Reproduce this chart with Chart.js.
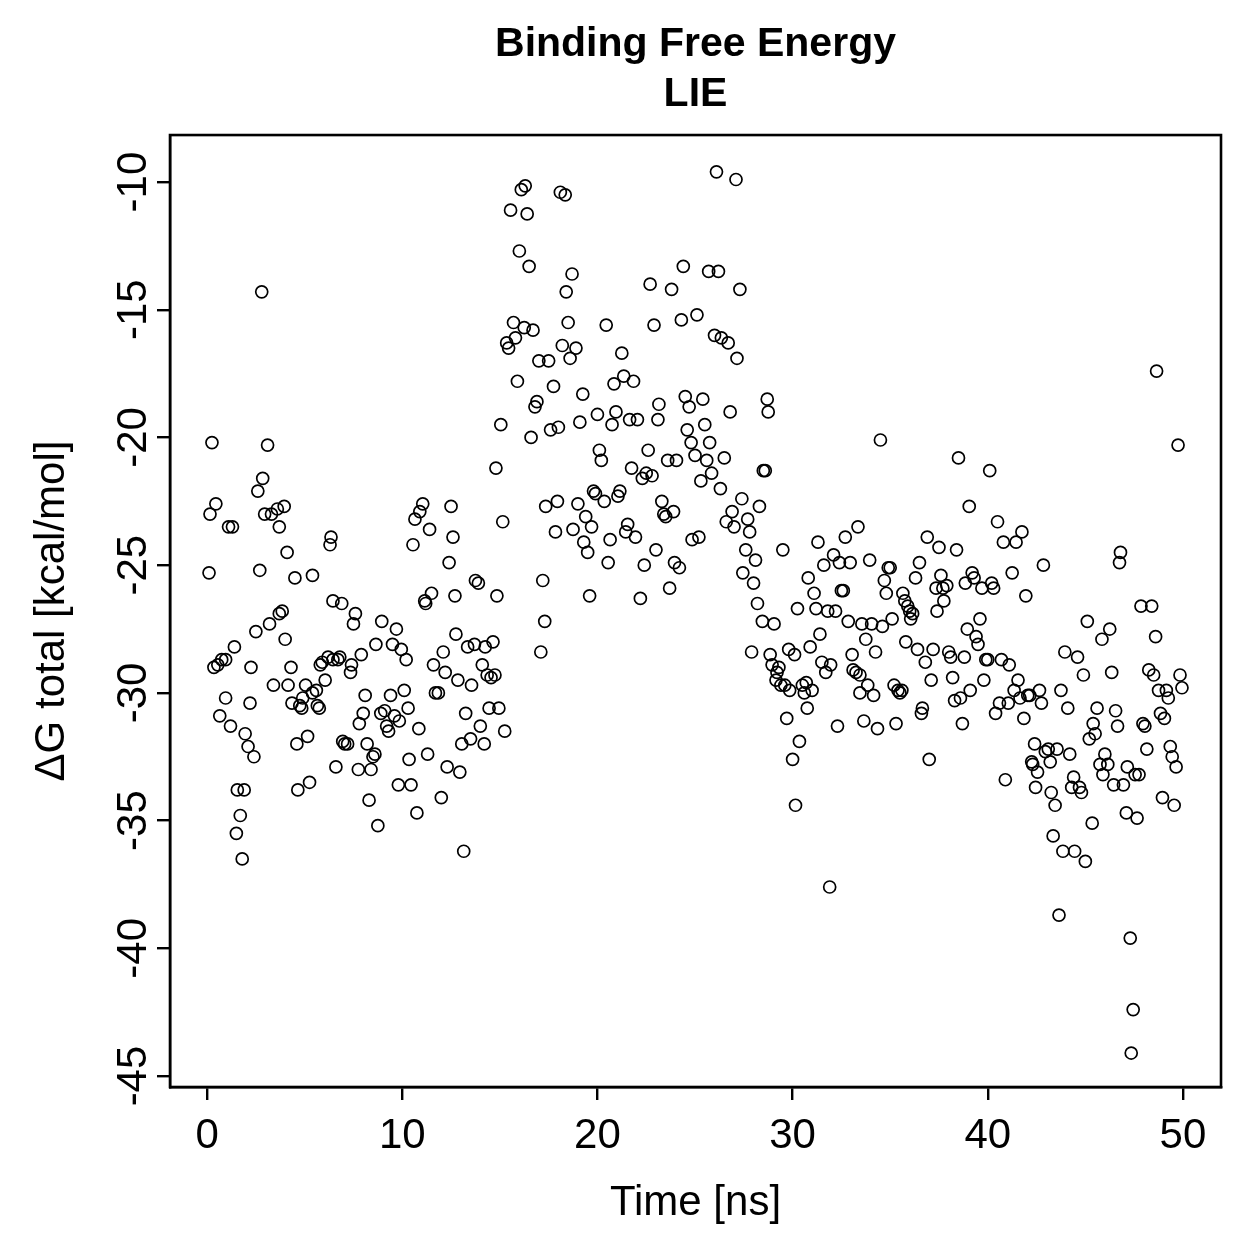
<!DOCTYPE html>
<html>
<head>
<meta charset="utf-8">
<script src="https://cdn.jsdelivr.net/npm/chart.js@4"></script>
<style>
  body { margin: 0; background: #fff; }
</style>
</head>
<body>
<canvas id="lie-chart" width="1259" height="1259"></canvas>
<script>
/*////////////////////////////////
///            Data            ///
////////////////////////////////*/

const timeNs = [
  0.1, 0.25, 0.15, 0.45, 0.35, 0.55, 0.75, 0.95, 0.65, 0.95, 1.1, 1.3, 1.2, 1.4, 1.55, 1.5, 1.7, 1.9, 1.8, 1.95,
  2.1, 2.25, 2.2, 2.4, 2.5, 2.6, 2.7, 2.8, 2.85, 2.95, 3.1, 3.2, 3.3, 3.4, 3.6, 3.7, 3.7, 3.85, 3.95, 4.0,
  4.1, 4.15, 4.3, 4.35, 4.5, 4.6, 4.65, 4.75, 4.85, 4.9, 5.05, 5.15, 5.25, 5.4, 5.4, 5.6, 5.65, 5.75, 5.8, 5.9,
  6.05, 6.2, 6.3, 6.35, 6.45, 6.45, 6.6, 6.7, 6.8, 6.9, 6.95, 7.05, 7.2, 7.35, 7.4, 7.5, 7.6, 7.75, 7.8, 7.9,
  8.0, 8.1, 8.2, 8.3, 8.4, 8.5, 8.6, 8.65, 8.75, 8.9, 8.95, 9.1, 9.2, 9.3, 9.4, 9.5, 9.6, 9.7, 9.8, 9.85,
  9.95, 10.1, 10.2, 10.3, 10.35, 10.45, 10.55, 10.65, 10.75, 10.85, 10.9, 11.05, 11.15, 11.2, 11.3, 11.4, 11.5, 11.6, 11.7, 11.85,
  12.0, 12.1, 12.2, 12.3, 12.4, 12.5, 12.6, 12.7, 12.75, 12.85, 12.95, 13.05, 13.15, 13.25, 13.35, 13.5, 13.55, 13.7, 13.75, 13.9,
  14.0, 14.1, 14.2, 14.25, 14.35, 14.45, 14.55, 14.65, 14.75, 14.85, 14.8, 14.95, 15.05, 15.15, 15.25, 15.35, 15.45, 15.55, 15.7, 15.8,
  15.9, 16.0, 16.1, 16.25, 16.3, 16.4, 16.5, 16.6, 16.7, 16.8, 16.9, 17.0, 17.1, 17.2, 17.3, 17.35, 17.5, 17.6, 17.75, 17.85,
  17.95, 18.0, 18.1, 18.2, 18.35, 18.4, 18.5, 18.6, 18.7, 18.75, 18.9, 19.0, 19.1, 19.25, 19.3, 19.4, 19.5, 19.6, 19.7, 19.8,
  19.9, 20.0, 20.1, 20.2, 20.35, 20.45, 20.55, 20.65, 20.75, 20.85, 20.95, 21.05, 21.15, 21.25, 21.35, 21.45, 21.55, 21.65, 21.75, 21.85,
  21.95, 22.05, 22.2, 22.3, 22.4, 22.5, 22.6, 22.7, 22.8, 22.9, 23.0, 23.1, 23.15, 23.3, 23.4, 23.5, 23.6, 23.7, 23.8, 23.9,
  23.95, 24.05, 24.2, 24.3, 24.4, 24.5, 24.6, 24.7, 24.8, 24.85, 25.0, 25.1, 25.2, 25.3, 25.4, 25.5, 25.6, 25.7, 25.75, 25.85,
  26.0, 26.1, 26.2, 26.3, 26.35, 26.5, 26.6, 26.7, 26.8, 26.9, 27.0, 27.1, 27.15, 27.3, 27.4, 27.45, 27.6, 27.7, 27.8, 27.9,
  28.0, 28.1, 28.2, 28.3, 28.45, 28.5, 28.6, 28.7, 28.75, 28.85, 28.95, 29.05, 29.15, 29.2, 29.3, 29.4, 29.5, 29.6, 29.7, 29.8,
  29.85, 30.0, 30.1, 30.15, 30.25, 30.35, 30.5, 30.6, 30.7, 30.75, 30.8, 30.9, 31.0, 31.1, 31.2, 31.3, 31.4, 31.5, 31.6, 31.7,
  31.8, 31.9, 31.95, 32.1, 32.2, 32.3, 32.4, 32.5, 32.6, 32.7, 32.85, 32.95, 33.05, 33.1, 33.25, 33.35, 33.45, 33.45, 33.55, 33.65,
  33.75, 33.85, 33.95, 34.05, 34.15, 34.25, 34.35, 34.5, 34.6, 34.7, 34.8, 34.9, 35.0, 35.1, 35.2, 35.3, 35.4, 35.5, 35.6, 35.65,
  35.75, 35.8, 35.9, 36.0, 36.05, 36.15, 36.3, 36.4, 36.5, 36.6, 36.65, 36.8, 36.9, 37.0, 37.1, 37.2, 37.35, 37.4, 37.5, 37.6,
  37.7, 37.75, 37.9, 38.0, 38.1, 38.2, 38.3, 38.4, 38.5, 38.6, 38.7, 38.8, 38.85, 38.95, 39.05, 39.1, 39.2, 39.3, 39.4, 39.5,
  39.6, 39.7, 39.8, 39.9, 40.0, 40.1, 40.2, 40.3, 40.4, 40.5, 40.6, 40.7, 40.8, 40.9, 41.05, 41.1, 41.25, 41.35, 41.45, 41.55,
  41.65, 41.75, 41.85, 41.95, 42.05, 42.15, 42.25, 42.3, 42.4, 42.45, 42.55, 42.65, 42.75, 42.85, 42.95, 43.1, 43.2, 43.25, 43.35, 43.45,
  43.55, 43.65, 43.75, 43.85, 43.95, 44.1, 44.2, 44.3, 44.4, 44.45, 44.6, 44.7, 44.8, 44.9, 45.0, 45.1, 45.2, 45.35, 45.4, 45.5,
  45.6, 45.75, 45.85, 45.9, 46.0, 46.15, 46.25, 46.35, 46.45, 46.55, 46.65, 46.75, 46.8, 46.95, 47.1, 47.15, 47.3, 47.35, 47.45, 47.55,
  47.65, 47.75, 47.85, 47.95, 48.05, 48.15, 48.25, 48.4, 48.5, 48.6, 48.65, 48.75, 48.85, 48.95, 49.05, 49.15, 49.25, 49.35, 49.45, 49.55,
  49.65, 49.75, 49.85, 49.95
];

const dGTotal = [
  -25.3, -20.2, -23.0, -22.6, -29.0, -28.9, -28.7, -28.7, -30.9, -30.2, -23.5, -23.5, -31.3, -28.2, -33.8, -35.5, -34.8, -33.8, -36.5, -31.6,
  -32.1, -29.0, -30.4, -32.5, -27.6, -22.1, -25.2, -14.3, -21.6, -23.0, -20.3, -27.3, -23.0, -29.7, -22.8, -23.5, -26.9, -26.8, -22.7, -27.9,
  -24.5, -29.7, -29.0, -30.4, -25.5, -32.0, -33.8, -30.5, -30.6, -30.2, -29.7, -31.7, -33.5, -25.4, -30.0, -29.9, -30.5, -30.6, -28.9, -28.8,
  -29.5, -28.6, -24.2, -23.9, -28.7, -26.4, -32.9, -28.7, -28.6, -26.5, -31.9, -32.0, -32.0, -29.2, -28.9, -27.3, -26.9, -33.0, -31.2, -28.5,
  -30.8, -30.1, -32.0, -34.2, -33.0, -32.5, -32.4, -28.1, -35.2, -30.8, -27.2, -30.7, -31.3, -31.5, -30.1, -28.1, -30.9, -27.5, -33.6, -31.1,
  -28.3, -29.9, -28.7, -30.6, -32.6, -33.6, -24.2, -23.2, -34.7, -31.4, -22.9, -22.6, -26.4, -26.5, -32.4, -23.6, -26.1, -28.9, -30.0, -30.0,
  -34.1, -28.4, -29.2, -32.9, -24.9, -22.7, -23.9, -26.2, -27.7, -29.5, -33.1, -32.0, -36.2, -30.8, -28.2, -31.8, -29.7, -28.1, -25.6, -25.7,
  -31.3, -28.9, -32.0, -28.2, -29.3, -30.6, -29.4, -28.0, -29.3, -26.2, -21.2, -30.6, -19.5, -23.3, -31.5, -16.3, -16.5, -11.1, -15.5, -16.1,
  -17.8, -12.7, -10.3, -15.7, -10.15, -11.25, -13.3, -20.0, -15.8, -18.8, -18.6, -17.0, -28.4, -25.6, -27.2, -22.7, -17.0, -19.7, -18.0, -23.7,
  -22.5, -19.6, -10.4, -16.4, -10.5, -14.3, -15.5, -16.9, -13.6, -23.6, -16.5, -22.6, -19.4, -18.3, -24.1, -23.1, -24.5, -26.2, -23.5, -22.1,
  -22.2, -19.1, -20.5, -20.9, -22.5, -15.6, -24.9, -24.0, -19.5, -17.9, -19.0, -22.3, -22.1, -16.7, -17.6, -23.7, -23.4, -19.3, -21.2, -17.8,
  -23.9, -19.3, -26.3, -21.6, -25.0, -21.4, -20.5, -14.0, -21.5, -15.6, -24.4, -19.3, -18.7, -22.5, -23.0, -23.1, -20.9, -25.9, -14.2, -22.9,
  -24.9, -20.9, -25.1, -15.4, -13.3, -18.4, -19.7, -18.8, -20.2, -24.0, -20.7, -15.2, -23.9, -21.7, -18.5, -19.5, -20.9, -13.5, -20.2, -21.4,
  -16.0, -9.6, -13.5, -22.0, -16.1, -20.8, -23.3, -16.3, -19.0, -22.9, -23.5, -9.9, -16.9, -14.2, -22.4, -25.3, -24.4, -23.2, -23.7, -28.4,
  -25.7, -24.8, -26.5, -22.7, -27.2, -21.3, -21.3, -18.5, -19.0, -28.5, -28.9, -27.3, -29.5, -29.2, -29.0, -29.7, -24.4, -29.7, -31.0, -28.3,
  -29.9, -32.6, -28.5, -34.4, -26.7, -31.9, -29.7, -30.0, -29.6, -30.6, -25.5, -28.2, -29.9, -26.1, -26.7, -24.1, -27.7, -28.8, -25.0, -29.2,
  -26.8, -37.6, -28.9, -24.6, -26.8, -31.3, -24.9, -26.0, -26.0, -23.9, -27.2, -24.9, -28.5, -29.1, -29.2, -23.5, -29.3, -30.0, -27.3, -31.1,
  -27.9, -29.7, -24.8, -27.3, -30.1, -28.4, -31.4, -20.1, -27.4, -25.6, -26.1, -25.1, -25.1, -27.1, -29.7, -31.2, -29.9, -30.0, -29.9, -26.1,
  -26.4, -28.0, -26.6, -26.8, -27.1, -26.9, -25.5, -28.3, -24.9, -30.8, -30.6, -28.8, -23.9, -32.6, -29.5, -28.3, -25.9, -26.8, -24.3, -25.4,
  -25.9, -26.4, -25.8, -28.4, -28.6, -29.4, -30.3, -24.4, -20.8, -30.2, -31.2, -28.6, -25.7, -27.5, -22.7, -29.9, -25.3, -25.5, -27.8, -28.1,
  -27.1, -25.9, -29.5, -28.7, -28.7, -21.3, -25.7, -25.9, -30.8, -23.3, -30.4, -28.7, -24.1, -33.4, -30.4, -28.9, -25.3, -29.9, -24.1, -29.5,
  -30.2, -23.7, -31.0, -26.2, -30.1, -30.1, -32.7, -32.8, -32.0, -33.7, -33.1, -29.9, -30.4, -25.0, -32.3, -32.2, -32.7, -33.9, -35.6, -34.4,
  -32.2, -38.7, -29.9, -36.2, -28.4, -30.6, -32.4, -33.7, -33.3, -36.2, -28.6, -33.7, -33.9, -29.3, -36.6, -27.2, -31.8, -35.1, -31.2, -31.6,
  -30.6, -32.8, -27.9, -33.2, -32.4, -32.8, -27.5, -29.2, -33.6, -30.7, -31.3, -24.9, -24.5, -33.6, -34.7, -32.9, -39.6, -44.1, -42.4, -33.2,
  -34.9, -33.2, -26.6, -31.2, -31.3, -32.2, -29.1, -26.6, -29.3, -27.8, -17.4, -29.9, -30.8, -34.1, -31.0, -29.9, -30.2, -32.1, -32.5, -34.4,
  -32.9, -20.3, -29.3, -29.8
];

const xTicks = [0, 10, 20, 30, 40, 50];
const yTicks = [-45, -40, -35, -30, -25, -20, -15, -10];

/*////////////////////////////////
///          Plugins           ///
////////////////////////////////*/

const fontFamily = '"Liberation Sans", Arial, Helvetica, sans-serif';
const axisFontSize = 42;

// box round the plot region and the rotated y tick labels (R style)
const rBox = {
  id: 'rBox',
  afterDraw(chart) {
    const ctx = chart.ctx;
    const area = chart.chartArea;
    ctx.save();
    ctx.strokeStyle = '#000';
    ctx.lineWidth = 2.6;
    ctx.strokeRect(area.left, area.top, area.right - area.left, area.bottom - area.top);

    const yScale = chart.scales.y;
    ctx.fillStyle = '#000';
    ctx.font = axisFontSize + 'px ' + fontFamily;
    ctx.textAlign = 'center';
    ctx.textBaseline = 'alphabetic';
    yScale.ticks.forEach((t) => {
      const py = yScale.getPixelForValue(t.value);
      ctx.save();
      ctx.translate(146, py);
      ctx.rotate(-Math.PI / 2);
      ctx.fillText(String(t.value), 0, 0);
      ctx.restore();
    });
    ctx.restore();
  }
};

/*////////////////////////////////
///        Scatter Chart       ///
////////////////////////////////*/

const points = timeNs.map((t, i) => ({ x: t, y: dGTotal[i] }));

const lie = document.getElementById('lie-chart').getContext('2d');

const lieChart = new Chart(lie, {
  type: 'scatter',
  data: {
    datasets: [{
      label: 'dG total',
      data: points,
      pointStyle: 'circle',
      pointRadius: 6,
      pointHoverRadius: 6,
      pointBorderWidth: 1.7,
      borderColor: '#000',
      backgroundColor: 'rgba(0,0,0,0)'
    }]
  },
  options: {
    responsive: false,
    animation: false,
    events: [],
    layout: {
      padding: { top: 0, right: 38, bottom: 0, left: 0 }
    },
    scales: {
      x: {
        type: 'linear',
        min: -1.9,
        max: 51.95,
        afterBuildTicks: (scale) => { scale.ticks = xTicks.map(v => ({ value: v })); },
        afterFit: (scale) => { scale.height = 172; },
        grid: {
          drawOnChartArea: false,
          drawTicks: true,
          tickLength: 13,
          color: '#000',
          lineWidth: 2.4
        },
        border: { display: true, color: '#000', width: 2.4 },
        ticks: {
          color: '#000',
          padding: 11,
          maxRotation: 0,
          font: { family: fontFamily, size: axisFontSize }
        },
        title: {
          display: true,
          text: 'Time [ns]',
          color: '#000',
          padding: { top: 0, bottom: 30 },
          font: { family: fontFamily, size: axisFontSize }
        }
      },
      y: {
        type: 'linear',
        min: -45.43,
        max: -8.16,
        afterBuildTicks: (scale) => { scale.ticks = yTicks.map(v => ({ value: v })); },
        afterFit: (scale) => { scale.width = 170; },
        grid: {
          drawOnChartArea: false,
          drawTicks: true,
          tickLength: 13,
          color: '#000',
          lineWidth: 2.4
        },
        border: { display: true, color: '#000', width: 2.4 },
        ticks: { display: false },
        title: {
          display: true,
          text: 'ΔG total [kcal/mol]',
          color: '#000',
          padding: { top: 27, bottom: 0 },
          font: { family: fontFamily, size: axisFontSize }
        }
      }
    },
    plugins: {
      legend: { display: false },
      tooltip: { enabled: false },
      title: {
        display: true,
        fullSize: false,
        text: ['Binding Free Energy', 'LIE'],
        color: '#000',
        padding: { top: 20, bottom: 15 },
        font: { family: fontFamily, size: 41, weight: 'bold', lineHeight: 1.22 }
      }
    }
  },
  plugins: [rBox]
});
</script>
</body>
</html>
